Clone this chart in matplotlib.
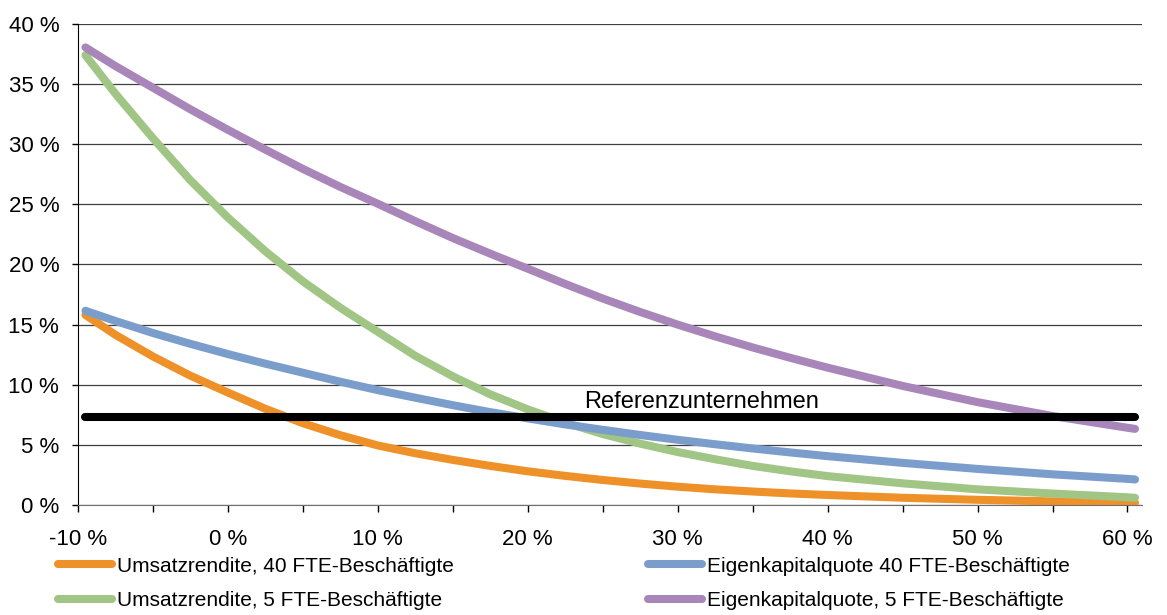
import matplotlib.pyplot as plt
from matplotlib.ticker import FixedLocator, FuncFormatter

plt.rcParams['font.family'] = ['Liberation Sans', 'DejaVu Sans']

# x: Veränderung in %, y: Werte in %
x = [-9.5, -7.5, -5, -2.5, 0, 2.5, 5, 7.5, 10, 12.5, 15, 17.5, 20, 22.5, 25, 27.5,
     30, 32.5, 35, 37.5, 40, 45, 50, 55, 60, 60.5]
umsatz_40 = [15.8, 14.15, 12.35, 10.75, 9.35, 8.0, 6.8, 5.8, 4.95, 4.3, 3.75, 3.25, 2.8, 2.42, 2.08, 1.78,
             1.52, 1.3, 1.12, 0.96, 0.83, 0.6, 0.43, 0.3, 0.2, 0.18]
ek_40 = [16.15, 15.3, 14.3, 13.4, 12.55, 11.75, 11.0, 10.25, 9.55, 8.92, 8.3, 7.72, 7.2, 6.7, 6.25, 5.82,
         5.42, 5.05, 4.7, 4.37, 4.06, 3.5, 3.0, 2.55, 2.17, 2.12]
umsatz_5 = [37.4, 34.2, 30.5, 27.0, 23.9, 21.1, 18.6, 16.4, 14.4, 12.4, 10.7, 9.2, 7.95, 6.85, 5.9, 5.1,
            4.4, 3.8, 3.25, 2.8, 2.4, 1.8, 1.3, 0.95, 0.64, 0.6]
ek_5 = [38.05, 36.5, 34.7, 32.9, 31.2, 29.55, 27.95, 26.45, 25.05, 23.6, 22.2, 20.9, 19.65, 18.38, 17.17, 16.05,
        15.0, 14.02, 13.1, 12.24, 11.42, 9.9, 8.55, 7.4, 6.42, 6.33]
referenz = 7.35

fig = plt.figure(figsize=(11.67, 6.15), dpi=100)
ax = fig.add_axes([0.0668, 0.1789, 0.9122, 0.7821])

lw = 5.8
ax.plot(x, umsatz_40, color='#EF9129', lw=lw, solid_capstyle='round', solid_joinstyle='round',
        label='Umsatzrendite, 40 FTE-Beschäftigte')
ax.plot(x, umsatz_5, color='#A1C584', lw=lw, solid_capstyle='round', solid_joinstyle='round',
        label='Umsatzrendite, 5 FTE-Beschäftigte')
ax.plot(x, ek_40, color='#7B9DCB', lw=lw, solid_capstyle='round', solid_joinstyle='round',
        label='Eigenkapitalquote 40 FTE-Beschäftigte')
ax.plot(x, ek_5, color='#A886BA', lw=lw, solid_capstyle='round', solid_joinstyle='round',
        label='Eigenkapitalquote, 5 FTE-Beschäftigte')
ax.plot([x[0], x[-1]], [referenz, referenz], color='black', lw=lw, solid_capstyle='round')
ax.text(31.6, 8.6, 'Referenzunternehmen', fontsize=17, ha='center', va='center')

ax.set_xlim(-10, 61)
ax.set_ylim(0, 40)

ax.xaxis.set_major_locator(FixedLocator(list(range(-10, 61, 5))))
ax.xaxis.set_major_formatter(FuncFormatter(lambda v, p: f'{int(round(v))} %' if round(v) % 10 == 0 else ''))
ax.yaxis.set_major_locator(FixedLocator(list(range(0, 41, 5))))
ax.yaxis.set_major_formatter(FuncFormatter(lambda v, p: f'{int(round(v))} %'))

ax.tick_params(axis='x', length=5, width=1, pad=12, labelsize=16, color='black')
ax.tick_params(axis='y', length=4.5, width=1, pad=9, labelsize=16, color='black')

ax.grid(axis='y', color='#404040', lw=0.9)
ax.set_axisbelow(True)
for s in ['top', 'right']:
    ax.spines[s].set_visible(False)
ax.spines['left'].set_color('black')
ax.spines['bottom'].set_color('#707070')

fig.legend(loc='upper left', bbox_to_anchor=(0.0497, 0.095), ncol=2, frameon=False,
           fontsize=15, handlelength=2.6, handletextpad=0.24, columnspacing=9.3,
           labelspacing=0.75, borderpad=0, borderaxespad=0)

fig.savefig('out.png', dpi=100)
